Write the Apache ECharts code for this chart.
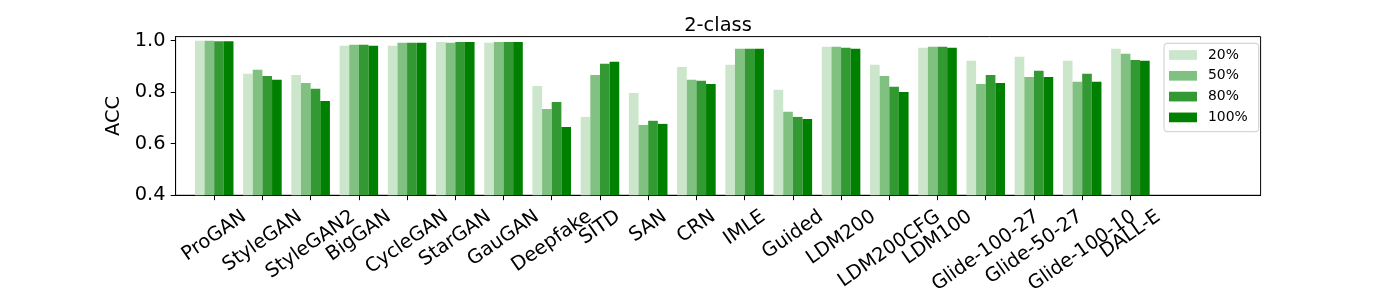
<!DOCTYPE html>
<html><head><meta charset="utf-8">
<script src="https://cdn.jsdelivr.net/npm/echarts@6/dist/echarts.min.js"></script>
<style>html,body{margin:0;padding:0;background:#fff}#c{width:1400px;height:300px}</style>
</head><body><div id="c"></div>
<script>
const categories = ['ProGAN','StyleGAN','StyleGAN2','BigGAN','CycleGAN','StarGAN','GauGAN','Deepfake','SITD','SAN','CRN','IMLE','Guided','LDM200','LDM200CFG','LDM100','Glide-100-27','Glide-50-27','Glide-100-10','DALL-E'];
const acc20  = [0.999,0.871,0.867,0.980,0.980,0.995,0.992,0.824,0.704,0.797,0.898,0.906,0.809,0.976,0.906,0.972,0.922,0.937,0.922,0.968];
const acc50  = [0.999,0.887,0.836,0.984,0.992,0.992,0.995,0.735,0.867,0.673,0.848,0.968,0.724,0.976,0.863,0.976,0.832,0.859,0.840,0.949];
const acc80  = [0.997,0.863,0.813,0.984,0.992,0.995,0.995,0.762,0.910,0.689,0.844,0.968,0.704,0.972,0.821,0.976,0.867,0.883,0.871,0.925];
const acc100 = [0.997,0.848,0.766,0.980,0.992,0.995,0.995,0.665,0.918,0.677,0.832,0.968,0.696,0.968,0.801,0.972,0.836,0.859,0.840,0.922];
const seriesNames = ['20%','50%','80%','100%'];
const yTicks = [0.4,0.6,0.8,1.0];
const colors = ['#cce6cc','#80c080','#339933','#008000'];

const FONT = 'DejaVu Sans';
const TICK_FS = 19.4;
const GRID = {left:175.6, right:139.4, top:36.6, bottom:104.7};
const XMIN = -0.8, XMAX = 21.7;
const ROT = 35;

// Shift label anchors so rotated labels are centred on ticks (matplotlib style)
const cv = document.createElement('canvas').getContext('2d');
cv.font = TICK_FS + 'px "' + FONT + '"';
const pxPerUnit = (1400 - GRID.left - GRID.right) / (XMAX - XMIN);
const labelPos = categories.map((c, i) => i + (cv.measureText(c).width / 2) * Math.cos(ROT * Math.PI / 180) / pxPerUnit);
const tickPos = categories.map((c, i) => i);
function nameAt(v) { let k = 0, best = 1e9; labelPos.forEach((p, j) => { const d = Math.abs(p - v); if (d < best) { best = d; k = j; } }); return categories[k]; }

function labelAxis(parity, withLine) {
  return {type: 'value', min: XMIN, max: XMAX, position: 'bottom', offset: 0, gridIndex: 0,
    axisLine: {show: withLine, onZero: false, lineStyle: {color: '#000', width: 1}},
    axisTick: {show: withLine, customValues: tickPos, length: 4.9, lineStyle: {color: '#000', width: 1}},
    axisLabel: {customValues: labelPos.filter((p, i) => i % 2 === parity), rotate: ROT, margin: 19.5,
                fontSize: TICK_FS, color: '#000', fontFamily: FONT,
                showMinLabel: true, showMaxLabel: true, hideOverlap: false, formatter: nameAt},
    splitLine: {show: false}};
}

const allSeries = [acc20, acc50, acc80, acc100];
const chart = echarts.init(document.getElementById('c'), null, {renderer:'canvas'});
chart.setOption({
  animation: false,
  textStyle: {fontFamily: FONT},
  title: {text: '2-class', left: 713, top: 11, textAlign: 'center',
          textStyle: {fontSize: 19.4, fontWeight: 'normal', color: '#000', fontFamily: FONT}},
  legend: {data: seriesNames, orient: 'vertical', left: 1164, top: 43.3, icon: 'rect',
           itemWidth: 28, itemHeight: 9.7, itemGap: 6.8, padding: [4.7, 11, 7.3, 5],
           borderColor: '#cccccc', borderWidth: 1, borderRadius: 3, backgroundColor: 'rgba(255,255,255,0.8)',
           textStyle: {fontSize: 13.9, color: '#000', fontFamily: FONT, padding: [0,0,0,6]}},
  grid: {left: GRID.left, right: GRID.right, top: GRID.top, bottom: GRID.bottom, show: true,
         borderColor: '#000', borderWidth: 1, containLabel: false},
  xAxis: [labelAxis(0, true), labelAxis(1, false)],
  yAxis: {type: 'value', min: 0.4, max: 1.0155, name: 'ACC', nameLocation: 'middle', nameGap: 45,
          nameTextStyle: {fontSize: 19.4, color: '#000', fontFamily: FONT},
          axisLine: {show: true, onZero: false, lineStyle: {color: '#000', width: 1}},
          axisTick: {show: true, customValues: yTicks, length: 4.9, lineStyle: {color: '#000', width: 1}},
          axisLabel: {customValues: yTicks, margin: 10, fontSize: TICK_FS, color: '#000', fontFamily: FONT,
                      showMinLabel: true, showMaxLabel: true, formatter: v => v.toFixed(1)},
          splitLine: {show: false}},
  series: allSeries.map((arr, k) => ({
    name: seriesNames[k], type: 'bar', xAxisIndex: 0, barGap: '0%', barCategoryGap: '20%',
    itemStyle: {color: colors[k]},
    data: arr.map((v, i) => [i, v])
  }))
});
</script></body></html>
